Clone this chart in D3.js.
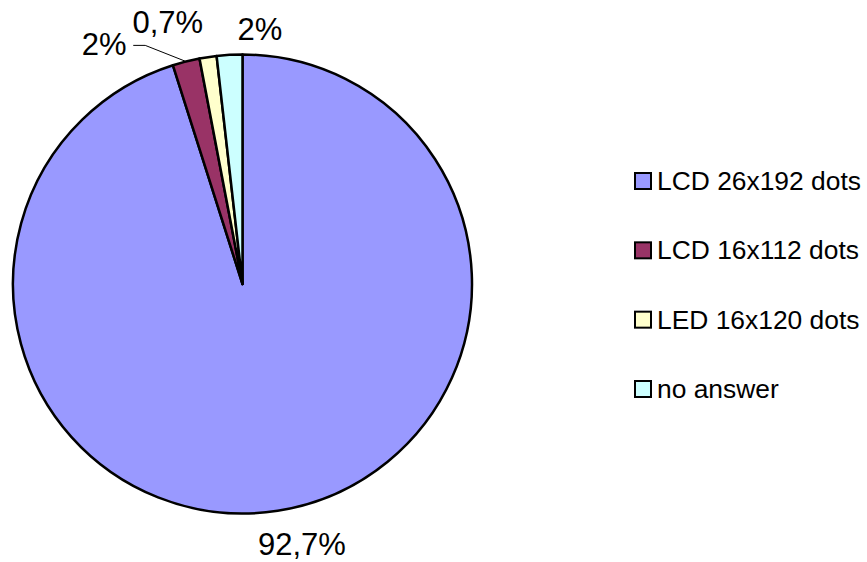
<!DOCTYPE html>
<html>
<head>
<meta charset="utf-8">
<script src="https://cdn.jsdelivr.net/npm/d3@7"></script>
<style>
  body { margin: 0; background: #fff; }
  svg { display: block; font-family: Arial, "Liberation Sans", sans-serif; }
</style>
</head>
<body>
<svg class="chart"></svg>
<script>
// data
const categories = ['LCD 26x192 dots', 'LCD 16x112 dots', 'LED 16x120 dots', 'no answer'];
const shares = [95.1, 1.9, 1.2, 1.8];            // slice sizes as drawn
const labels = ['92,7%', '2%', '0,7%', '2%'];    // data labels as printed
const colors = ['#9999ff', '#993366', '#ffffcc', '#ccffff'];

const WIDTH = 867, HEIGHT = 562;
const CX = 242.5, CY = 284, R = 229.5;
// nudges for the outside labels (Excel places them a bit off the centroid)
const labelNudge = [[20, 17], [-75, 21], [-36, 4], [32, 13]];

const svg = d3.select('.chart')
    .attr('width', WIDTH)
    .attr('height', HEIGHT);

const pie = d3.pie().sort(null).value(d => d);
const arcs = pie(shares);

const arc = d3.arc().innerRadius(0).outerRadius(R);
const labelArc = d3.arc().innerRadius(R + 28).outerRadius(R + 28);

const g = svg.append('g')
    .attr('transform', `translate(${CX},${CY})`);

g.selectAll('path.slice')
    .data(arcs)
    .join('path')
    .attr('class', 'slice')
    .attr('d', arc)
    .attr('fill', (d, i) => colors[i])
    .attr('stroke', '#000')
    .attr('stroke-width', 2.5)
    .attr('stroke-linejoin', 'round');

// label positions
const labelPos = arcs.map((d, i) => {
    const c = labelArc.centroid(d);
    return [c[0] + labelNudge[i][0], c[1] + labelNudge[i][1]];
});

// leader line from the left "2%" label to its slice
const maroon = arcs[1];
const mid = (maroon.startAngle + maroon.endAngle) / 2;
const edge = [Math.sin(mid) * R, -Math.cos(mid) * R];
const lp = labelPos[1];
g.append('path')
    .attr('d', d3.line()([
        [lp[0] + 29, lp[1] - 10],
        [lp[0] + 41, lp[1] - 10],
        edge
    ]))
    .attr('fill', 'none')
    .attr('stroke', '#000')
    .attr('stroke-width', 1);

g.selectAll('text.lbl')
    .data(labels)
    .join('text')
    .attr('class', 'lbl')
    .attr('x', (d, i) => labelPos[i][0])
    .attr('y', (d, i) => labelPos[i][1])
    .attr('text-anchor', 'middle')
    .style('font-size', '31px')
    .text(d => d);

// legend
const legendY = d3.scalePoint()
    .domain(categories)
    .range([181, 389]);

const legend = svg.append('g')
    .selectAll('g')
    .data(categories)
    .join('g')
    .attr('transform', d => `translate(635,${legendY(d)})`);

legend.append('rect')
    .attr('x', 0)
    .attr('y', -8)
    .attr('width', 16)
    .attr('height', 16)
    .attr('fill', (d, i) => colors[i])
    .attr('stroke', '#000')
    .attr('stroke-width', 2);

legend.append('text')
    .attr('x', 22)
    .attr('y', 9)
    .style('font-size', '26.4px')
    .text(d => d);
</script>
</body>
</html>
